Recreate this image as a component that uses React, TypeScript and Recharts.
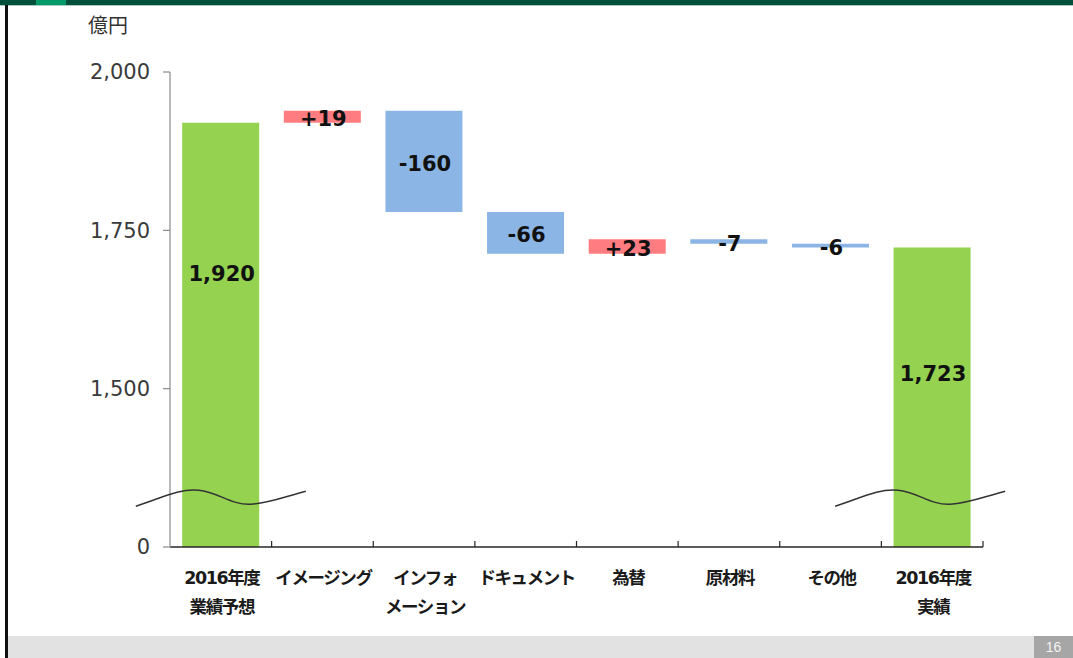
import React from 'react';
import { BarChart, Bar, XAxis, YAxis, LabelList, ReferenceDot } from 'recharts';

// ---- data ----
const categories = [
  '2016年度\n業績予想',
  'イメージング',
  'インフォ\nメーション',
  'ドキュメント',
  '為替',
  '原材料',
  'その他',
  '2016年度\n実績',
];
const forecastTotal = 1920;
const changes = [19, -160, -66, 23, -7, -6];
const actualTotal = 1723;

// The value axis is broken: everything below AXIS_FLOOR is collapsed, and the floor is shown as 0.
const AXIS_FLOOR = 1250;
const yTicks = [1250, 1500, 1750, 2000];
const yTickLabels = ['0', '1,500', '1,750', '2,000'];
const BREAK_VALUE = 1327;

// ---- layout ----
const W = 1073;
const H = 658;
const MARGIN = { top: 72, right: 90, bottom: 31, left: 0 };
const Y_AXIS_W = 170;
const X_AXIS_H = 80;
const PLOT_LEFT = MARGIN.left + Y_AXIS_W;
const PLOT_WIDTH = W - PLOT_LEFT - MARGIN.right;
const PLOT_BOTTOM = H - MARGIN.bottom - X_AXIS_H;
const BAND = PLOT_WIDTH / categories.length;

const GREEN = '#94d250';
const BLUE = '#8ab5e4';
const RED = '#ff7c80';
const LABEL_FONT = '"DejaVu Sans", "Noto Sans CJK JP", sans-serif';
const CJK_FONT = '"DejaVu Sans", "Noto Sans CJK JP", sans-serif';

type Row = {
  name: string;
  base: number;
  total: number;
  up: number;
  down: number;
  delta: number | null;
};

// Running waterfall: totals stand on the baseline, changes float on the running sum.
let running = forecastTotal;
const rows: Row[] = categories.map((name, i) => {
  if (i === 0) return { name, base: 0, total: forecastTotal, up: 0, down: 0, delta: null };
  if (i === categories.length - 1) return { name, base: 0, total: actualTotal, up: 0, down: 0, delta: null };
  const d = changes[i - 1];
  const prev = running;
  running += d;
  return {
    name,
    base: Math.min(prev, running),
    total: 0,
    up: d > 0 ? d : 0,
    down: d < 0 ? -d : 0,
    delta: d,
  };
});

// vertical placement of the total labels inside their bars (px below bar top)
const totalLabelOffset: Record<number, number> = { 0: 151, 7: 126 };

const fmt = (v: number) => v.toLocaleString('en-US');

// find the category a bar belongs to from its horizontal position
const rowIndexAt = (centerX: number) =>
  Math.max(0, Math.min(categories.length - 1, Math.floor((centerX - PLOT_LEFT) / BAND)));

const renderLabel = (kind: 'total' | 'up' | 'down') => (p: any) => {
  const { x, y, width, height } = p;
  const cx = Number(x) + Number(width) / 2;
  const index = rowIndexAt(cx);
  const row = rows[index];
  if (!row) return null;
  if (kind === 'total' && row.delta !== null) return null;
  if (kind === 'up' && !(row.delta !== null && row.delta > 0)) return null;
  if (kind === 'down' && !(row.delta !== null && row.delta < 0)) return null;
  let cy: number;
  let text: string;
  if (kind === 'total') {
    cy = Number(y) + (totalLabelOffset[index] ?? Number(height) / 2);
    text = fmt(row.total);
  } else {
    cy = Number(y) + Number(height) / 2 + 2;
    text = (row.delta as number) > 0 ? `+${row.delta}` : `${row.delta}`;
  }
  return (
    <text
      x={cx + 1}
      y={cy + 7.6}
      textAnchor="middle"
      fontFamily={LABEL_FONT}
      fontWeight="bold"
      fontSize={21}
      fill="#111"
    >
      {text}
    </text>
  );
};

const CategoryTick = (props: any) => {
  const { x, payload } = props;
  const lines = String(payload.value).split('\n');
  const right = x + BAND / 2;
  return (
    <g>
      <line x1={right} x2={right} y1={PLOT_BOTTOM - 6} y2={PLOT_BOTTOM} stroke="#262626" strokeWidth={1.2} />
      <text
        textAnchor="middle"
        fontFamily={CJK_FONT}
        fontWeight="bold"
        fontSize={17.5}
        letterSpacing={-1.4}
        fill="#1a1a1a"
      >
        {lines.map((l, i) => (
          <tspan key={i} x={x + 1} y={PLOT_BOTTOM + 37 + i * 29}>
            {l}
          </tspan>
        ))}
      </text>
    </g>
  );
};

// Wavy "axis break" mark drawn across a total bar
const BreakMark = ({ cx, cy, dx = 0 }: { cx: number; cy: number; dx?: number }) => {
  const x0 = cx + dx;
  const d = `M ${x0 - 85} ${cy + 8} C ${x0 - 60} ${cy} ${x0 - 42} ${cy - 10} ${x0 - 22} ${cy - 8} C ${x0 - 2} ${cy - 6} ${x0 + 10} ${cy + 7} ${x0 + 30} ${cy + 6} C ${x0 + 48} ${cy + 5} ${x0 + 62} ${cy - 1} ${x0 + 85} ${cy - 7}`;
  return <path d={d} fill="none" stroke="#333" strokeWidth={1.4} />;
};

export default function App() {
  return (
    <div style={{ position: 'absolute', left: 0, top: 0, width: W, height: H, background: '#fff', overflow: 'hidden' }}>
      {/* slide frame */}
      <div style={{ position: 'absolute', left: 0, top: 0, width: W, height: 5, background: '#004f3a' }} />
      <div style={{ position: 'absolute', left: 36, top: 0, width: 30, height: 5, background: '#009968' }} />
      <div style={{ position: 'absolute', left: 0, top: 5, width: W, height: 1, background: '#a9cbbf' }} />
      <div style={{ position: 'absolute', left: 5, top: 5, width: 2.5, height: H - 5, background: '#111' }} />
      <div style={{ position: 'absolute', left: 8, top: 636, width: W - 8, height: 22, background: '#e2e2e2' }} />
      <div
        style={{
          position: 'absolute',
          left: 1034,
          top: 636,
          width: 39,
          height: 22,
          background: '#a6a6a6',
          color: '#f4f4f4',
          fontFamily: 'Arial, "Liberation Sans", sans-serif',
          fontSize: 14,
          lineHeight: '22px',
          textAlign: 'center',
        }}
      >
        16
      </div>
      <div
        style={{
          position: 'absolute',
          left: 88,
          top: 12,
          fontFamily: '"Noto Sans CJK JP", sans-serif',
          fontSize: 20,
          lineHeight: '26px',
          color: '#333',
        }}
      >
        億円
      </div>

      <div style={{ position: 'absolute', left: 0, top: 0 }}>
        <BarChart
          width={W}
          height={H}
          data={rows}
          margin={MARGIN}
          barCategoryGap="12%"
        >
          <XAxis
            dataKey="name"
            interval={0}
            height={X_AXIS_H}
            axisLine={{ stroke: '#262626', strokeWidth: 1.5 }}
            tickLine={false}
            tick={<CategoryTick />}
          />
          <YAxis
            width={Y_AXIS_W}
            type="number"
            domain={[AXIS_FLOOR, 2000]}
            allowDataOverflow
            ticks={yTicks}
            interval={0}
            tickFormatter={(v: number) => yTickLabels[yTicks.indexOf(v)] ?? fmt(v)}
            axisLine={{ stroke: '#a0a0a0', strokeWidth: 1.5 }}
            tickLine={{ stroke: '#8a8a8a', strokeWidth: 1.2 }}
            tickSize={7}
            tickMargin={13}
            tick={{ fill: '#3a3a3a', fontSize: 21, fontFamily: '"DejaVu Sans", sans-serif' }}
          />
          <Bar dataKey="base" stackId="w" fill="transparent" isAnimationActive={false} />
          <Bar dataKey="total" stackId="w" fill={GREEN} isAnimationActive={false}>
            <LabelList dataKey="total" content={renderLabel('total')} />
          </Bar>
          <Bar dataKey="up" stackId="w" fill={RED} isAnimationActive={false}>
            <LabelList dataKey="up" content={renderLabel('up')} />
          </Bar>
          <Bar dataKey="down" stackId="w" fill={BLUE} isAnimationActive={false}>
            <LabelList dataKey="down" content={renderLabel('down')} />
          </Bar>
          <ReferenceDot
            x={categories[0]}
            y={BREAK_VALUE}
            r={0}
            ifOverflow="visible"
            shape={(p: any) => <BreakMark cx={p.cx} cy={p.cy} />}
          />
          <ReferenceDot
            x={categories[categories.length - 1]}
            y={BREAK_VALUE}
            r={0}
            ifOverflow="visible"
            shape={(p: any) => <BreakMark cx={p.cx} cy={p.cy} dx={-12} />}
          />
        </BarChart>
      </div>
    </div>
  );
}
